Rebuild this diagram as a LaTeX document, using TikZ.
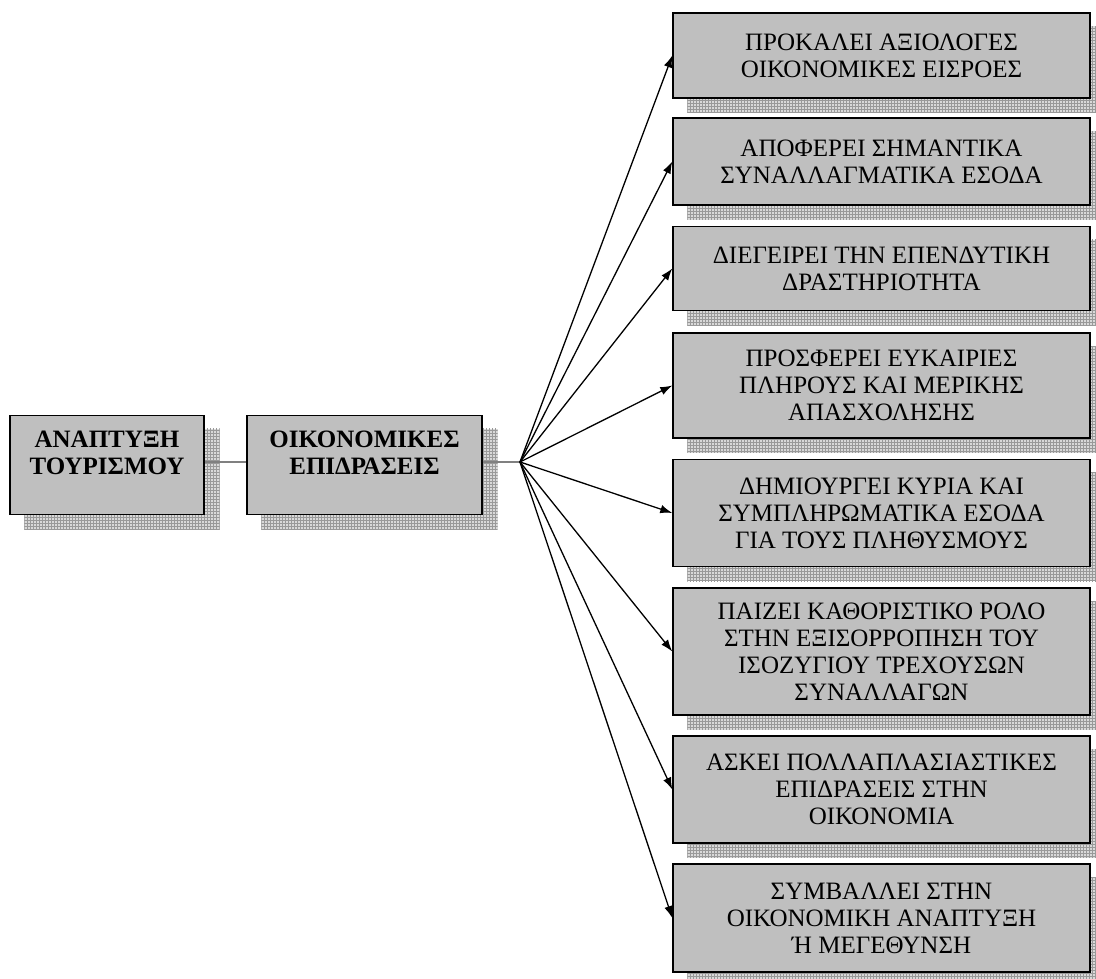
\documentclass[tikz,border=0pt]{standalone}
\usepackage{fontspec}
\setmainfont{Liberation Serif}
\usepackage{tikz}
\usetikzlibrary{calc, patterns, backgrounds, arrows.meta}

\tikzset{
    box/.style={draw=black, line width=1.4pt, fill=gray!50, align=center,
        font=\fontsize{25}{27}\selectfont, inner sep=4pt},
    srcbox/.style={box, font=\fontsize{25}{27}\selectfont\bfseries, minimum height=99pt, text depth=25pt},
    effbox/.style={box, minimum width=417pt},
    shadowfill/.style={fill=gray!30, postaction={pattern=grid, pattern color=gray!80}},
    fanarrow/.style={line width=1.3pt, -{Latex[length=12pt,width=8.5pt]}},
    link/.style={line width=2.8pt, gray}
}

\begin{document}
\begin{tikzpicture}[x=1pt, y=-1pt]
        \useasboundingbox (0,0) rectangle (1096,979);

        % left part
        \node[srcbox, minimum width=194pt] (tourism) at (107,465) {ΑΝΑΠΤΥΞΗ\\ΤΟΥΡΙΣΜΟΥ};
        \node[srcbox, minimum width=235pt] (econ) at (364.5,465) {ΟΙΚΟΝΟΜΙΚΕΣ\\ΕΠΙΔΡΑΣΕΙΣ};
        \coordinate (hub) at (520,462);

        % effects
        \node[effbox, minimum height=85pt] (eff1) at (881.5,55.5) {ΠΡΟΚΑΛΕΙ ΑΞΙΟΛΟΓΕΣ\\ΟΙΚΟΝΟΜΙΚΕΣ ΕΙΣΡΟΕΣ};
        \node[effbox, minimum height=87pt] (eff2) at (881.5,161.5) {ΑΠΟΦΕΡΕΙ ΣΗΜΑΝΤΙΚΑ\\ΣΥΝΑΛΛΑΓΜΑΤΙΚΑ ΕΣΟΔΑ};
        \node[effbox, minimum height=84pt] (eff3) at (881.5,268.5) {ΔΙΕΓΕΙΡΕΙ ΤΗΝ ΕΠΕΝΔΥΤΙΚΗ\\ΔΡΑΣΤΗΡΙΟΤΗΤΑ};
        \node[effbox, minimum height=105pt] (eff4) at (881.5,385.5) {ΠΡΟΣΦΕΡΕΙ ΕΥΚΑΙΡΙΕΣ\\ΠΛΗΡΟΥΣ ΚΑΙ ΜΕΡΙΚΗΣ\\ΑΠΑΣΧΟΛΗΣΗΣ};
        \node[effbox, minimum height=107pt] (eff5) at (881.5,513) {ΔΗΜΙΟΥΡΓΕΙ ΚΥΡΙΑ ΚΑΙ\\ΣΥΜΠΛΗΡΩΜΑΤΙΚΑ ΕΣΟΔΑ\\ΓΙΑ ΤΟΥΣ ΠΛΗΘΥΣΜΟΥΣ};
        \node[effbox, minimum height=127pt] (eff6) at (881.5,651.5) {ΠΑΙΖΕΙ ΚΑΘΟΡΙΣΤΙΚΟ ΡΟΛΟ\\ΣΤΗΝ ΕΞΙΣΟΡΡΟΠΗΣΗ ΤΟΥ\\ΙΣΟΖΥΓΙΟΥ ΤΡΕΧΟΥΣΩΝ\\ΣΥΝΑΛΛΑΓΩΝ};
        \node[effbox, minimum height=107pt] (eff7) at (881.5,789.5) {ΑΣΚΕΙ ΠΟΛΛΑΠΛΑΣΙΑΣΤΙΚΕΣ\\ΕΠΙΔΡΑΣΕΙΣ ΣΤΗΝ\\ΟΙΚΟΝΟΜΙΑ};
        \node[effbox, minimum height=108pt] (eff8) at (881.5,918) {ΣΥΜΒΑΛΛΕΙ ΣΤΗΝ\\ΟΙΚΟΝΟΜΙΚΗ ΑΝΑΠΤΥΞΗ\\Ή ΜΕΓΕΘΥΝΣΗ};

        % shadows
        \begin{scope}[on background layer]
            \foreach \n in {tourism,econ,eff1,eff2,eff3,eff4,eff5,eff6,eff7,eff8}
                \fill[shadowfill] ($(\n.south west)+(15,14)$) rectangle ($(\n.north east)+(15,14)$);
        \end{scope}

        \draw[link] (tourism.east |- hub) -- (econ.west |- hub);
        \draw[link] (econ.east |- hub) -- (hub);
        \foreach \i in {1,...,8}
            \draw[fanarrow] (hub) -- (eff\i.west);
    \end{tikzpicture}
\end{document}
